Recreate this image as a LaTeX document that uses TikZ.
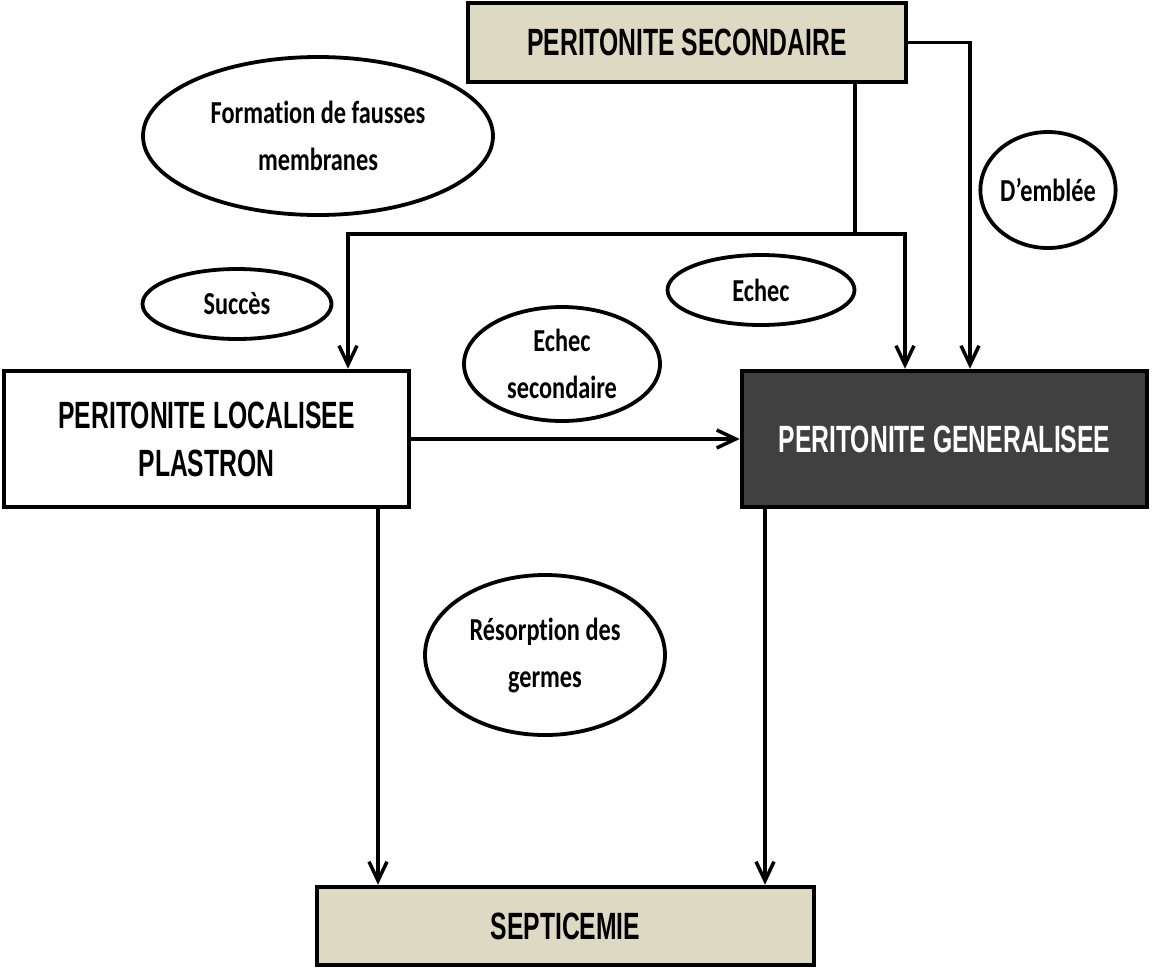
\documentclass[tikz,border=0pt]{standalone}
\usepackage{fontspec}
\usetikzlibrary{shapes.geometric,arrows.meta}
\newfontfamily\boxfont{Liberation Sans}[FakeStretch=0.65]
\newfontfamily\ellfont{Carlito}[FakeStretch=0.76,Ligatures=NoCommon]
\definecolor{beige}{HTML}{DDD9C3}
\definecolor{darkbox}{HTML}{404040}
\tikzset{
  box/.style={draw=black, line width=4.5pt, rectangle, inner sep=0pt, align=center,
    font={\boxfont\bfseries\fontsize{38}{48}\selectfont}},
  oval/.style={draw=black, line width=3.8pt, ellipse, inner sep=0pt, align=center,
    font={\ellfont\bfseries\fontsize{32}{47}\selectfont}},
  arr/.style={line width=3.5pt, -{Straight Barb[length=19pt,width=18pt,line width=3.5pt]}},
  conn/.style={line width=3.5pt}
}
\begin{document}
\begin{tikzpicture}[x=1pt,y=-1pt]
\useasboundingbox (0,0) rectangle (1170,967);
% boxes
\node[box, fill=beige, minimum width=438pt, minimum height=79pt] (sec) at (687,42.5) {PERITONITE SECONDAIRE};
\node[box, fill=white, minimum width=405pt, minimum height=136pt] (loc) at (206.5,439) {PERITONITE LOCALISEE\\PLASTRON};
\node[box, fill=darkbox, text=white, minimum width=405pt, minimum height=136pt] (gen) at (944.5,439) {PERITONITE GENERALISEE};
\node[box, fill=beige, minimum width=497pt, minimum height=78pt] (sep) at (565.5,926) {SEPTICEMIE};
% ovals
\node[oval, minimum width=350pt, minimum height=158pt] (form) at (318,136) {Formation de fausses\\membranes};
\node[oval, minimum width=127pt, minimum height=116pt] (demb) at (1048,190) {D’emblée};
\node[oval, minimum width=189pt, minimum height=70pt] (succ) at (237,304) {Succès};
\node[oval, minimum width=187pt, minimum height=70pt] (ech) at (761,290) {Echec};
\node[oval, minimum width=196pt, minimum height=114pt] (ech2) at (562,364) {Echec\\secondaire};
\node[oval, minimum width=240pt, minimum height=160pt] (res) at (545,655) {Résorption des\\germes};
% connectors
\coordinate (jM) at (855,234);
\coordinate (jL) at (348,234);
\coordinate (jR) at (905,234);
\coordinate (xR) at (970,0);
\coordinate (xL) at (378,0);
\coordinate (xG) at (765,0);
\draw[conn] (sec.south -| jM) -- (jM);
\draw[arr] (jM) -- (jL) -- (jL |- loc.north);
\draw[arr] (jM) -- (jR) -- (jR |- gen.north);
\draw[arr] (sec.east) -| (xR |- gen.north);
\draw[arr] (loc.east) -- (gen.west);
\draw[arr] (xL |- loc.south) -- (xL |- sep.north);
\draw[arr] (xG |- gen.south) -- (xG |- sep.north);
\end{tikzpicture}
\end{document}
